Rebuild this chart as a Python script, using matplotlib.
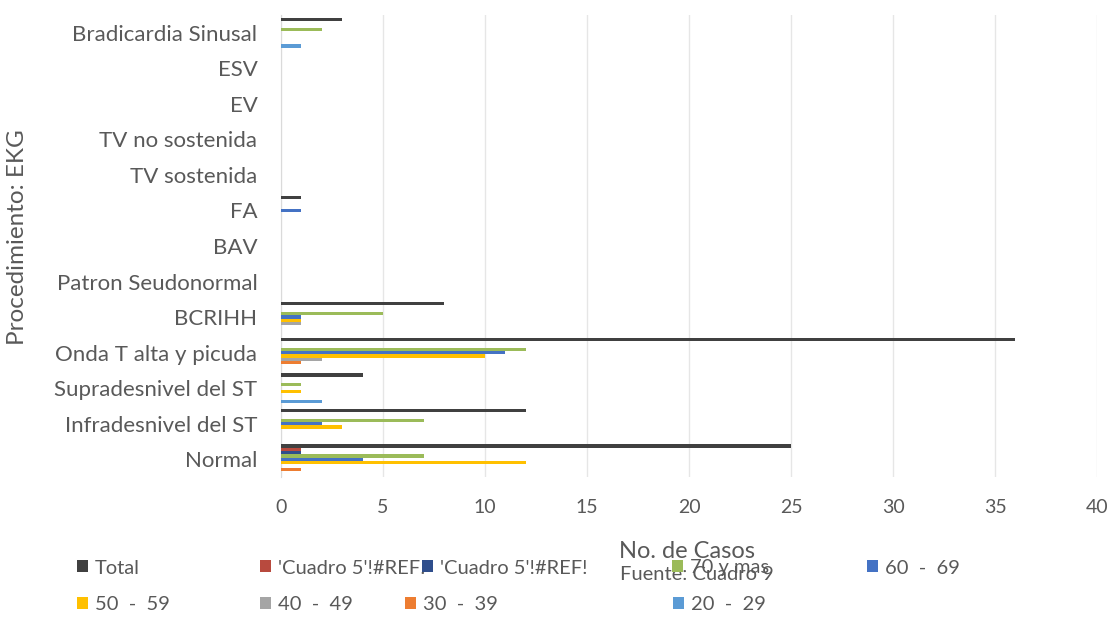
import numpy as np
import matplotlib.pyplot as plt

plt.rcParams['font.family'] = ['Lato', 'DejaVu Sans']

# hallazgos del EKG, de abajo hacia arriba
categorias = [
    "Normal", "Infradesnivel del ST", "Supradesnivel del ST",
    "Onda T alta y picuda", "BCRIHH", "Patron Seudonormal", "BAV", "FA",
    "TV sostenida", "TV no sostenida", "EV", "ESV", "Bradicardia Sinusal",
]

total      = [25, 12, 4, 36, 8, 0, 0, 1, 0, 0, 0, 0, 3]
ref_a      = [1, 0, 0, 0, 0, 0, 0, 0, 0, 0, 0, 0, 0]
ref_b      = [1, 0, 0, 0, 0, 0, 0, 0, 0, 0, 0, 0, 0]
edad_70    = [7, 7, 1, 12, 5, 0, 0, 0, 0, 0, 0, 0, 2]
edad_60_69 = [4, 2, 0, 11, 1, 0, 0, 1, 0, 0, 0, 0, 0]
edad_50_59 = [12, 3, 1, 10, 1, 0, 0, 0, 0, 0, 0, 0, 0]
edad_40_49 = [0, 0, 0, 2, 1, 0, 0, 0, 0, 0, 0, 0, 0]
edad_30_39 = [1, 0, 0, 1, 0, 0, 0, 0, 0, 0, 0, 0, 0]
edad_20_29 = [0, 0, 2, 0, 0, 0, 0, 0, 0, 0, 0, 0, 1]

series = [
    ("Total", total, "#404040"),
    ("'Cuadro 5'!#REF!", ref_a, "#B84A3E"),
    ("'Cuadro 5'!#REF!", ref_b, "#2F4E8C"),
    ("70 y mas", edad_70, "#9BBB59"),
    ("60  -  69", edad_60_69, "#4472C4"),
    ("50  -  59", edad_50_59, "#FFC000"),
    ("40  -  49", edad_40_49, "#A5A5A5"),
    ("30  -  39", edad_30_39, "#ED7D31"),
    ("20  -  29", edad_20_29, "#5B9BD5"),
]

gris = "#595959"
W, H = 1114, 627
fig = plt.figure(figsize=(W / 100, H / 100), dpi=100)
ax = fig.add_axes([281 / W, 1 - 477 / H, (1097 - 281) / W, (477 - 15) / H])

y = np.arange(len(categorias))
paso = 0.093
handles = []
for i, (nombre, valores, color) in enumerate(series):
    b = ax.barh(y + (4 - i) * paso, valores, height=0.09, color=color,
                label=nombre, zorder=3)
    handles.append(b)

ax.set_xlim(0, 40)
ax.set_ylim(-0.5, len(categorias) - 0.5)
ax.set_xticks(range(0, 41, 5))
ax.set_yticks(y)
ax.set_yticklabels(categorias)
ax.tick_params(axis="both", length=0, colors=gris)
ax.tick_params(axis="x", pad=16, labelsize=14)
ax.tick_params(axis="y", pad=17, labelsize=16)
ax.grid(axis="x", color="#E6E6E6", linewidth=1, zorder=0)
for s in ["top", "right", "bottom"]:
    ax.spines[s].set_visible(False)
ax.spines["left"].set_color("#DADADA")

fig.text(18 / W, 1 - 237 / H, "Procedimiento: EKG", color=gris, fontsize=17.5,
         rotation=90, ha="center", va="center")
fig.text(687 / W, 1 - 551 / H, "No. de Casos", color=gris, fontsize=17,
         ha="center", va="center")
fig.text(697 / W, 1 - 575 / H, "Fuente: Cuadro 9", color=gris, fontsize=14.5,
         ha="center", va="center")

# leyenda repartida en dos filas
pos_leyenda = [
    (77, 568), (260, 568), (422, 568), (672, 568), (867, 568),
    (77, 605), (260, 605), (405, 605), (673, 605),
]
for h, (px, py) in zip(handles, pos_leyenda):
    fig.legend(handles=[h], labels=[h.get_label()], loc="center left",
               bbox_to_anchor=(px / W, 1 - py / H), frameon=False,
               borderpad=0, borderaxespad=0, handlelength=0.55,
               handleheight=0.55, handletextpad=0.35, fontsize=14.5,
               labelcolor=gris)

fig.savefig("out.png", dpi=100)
